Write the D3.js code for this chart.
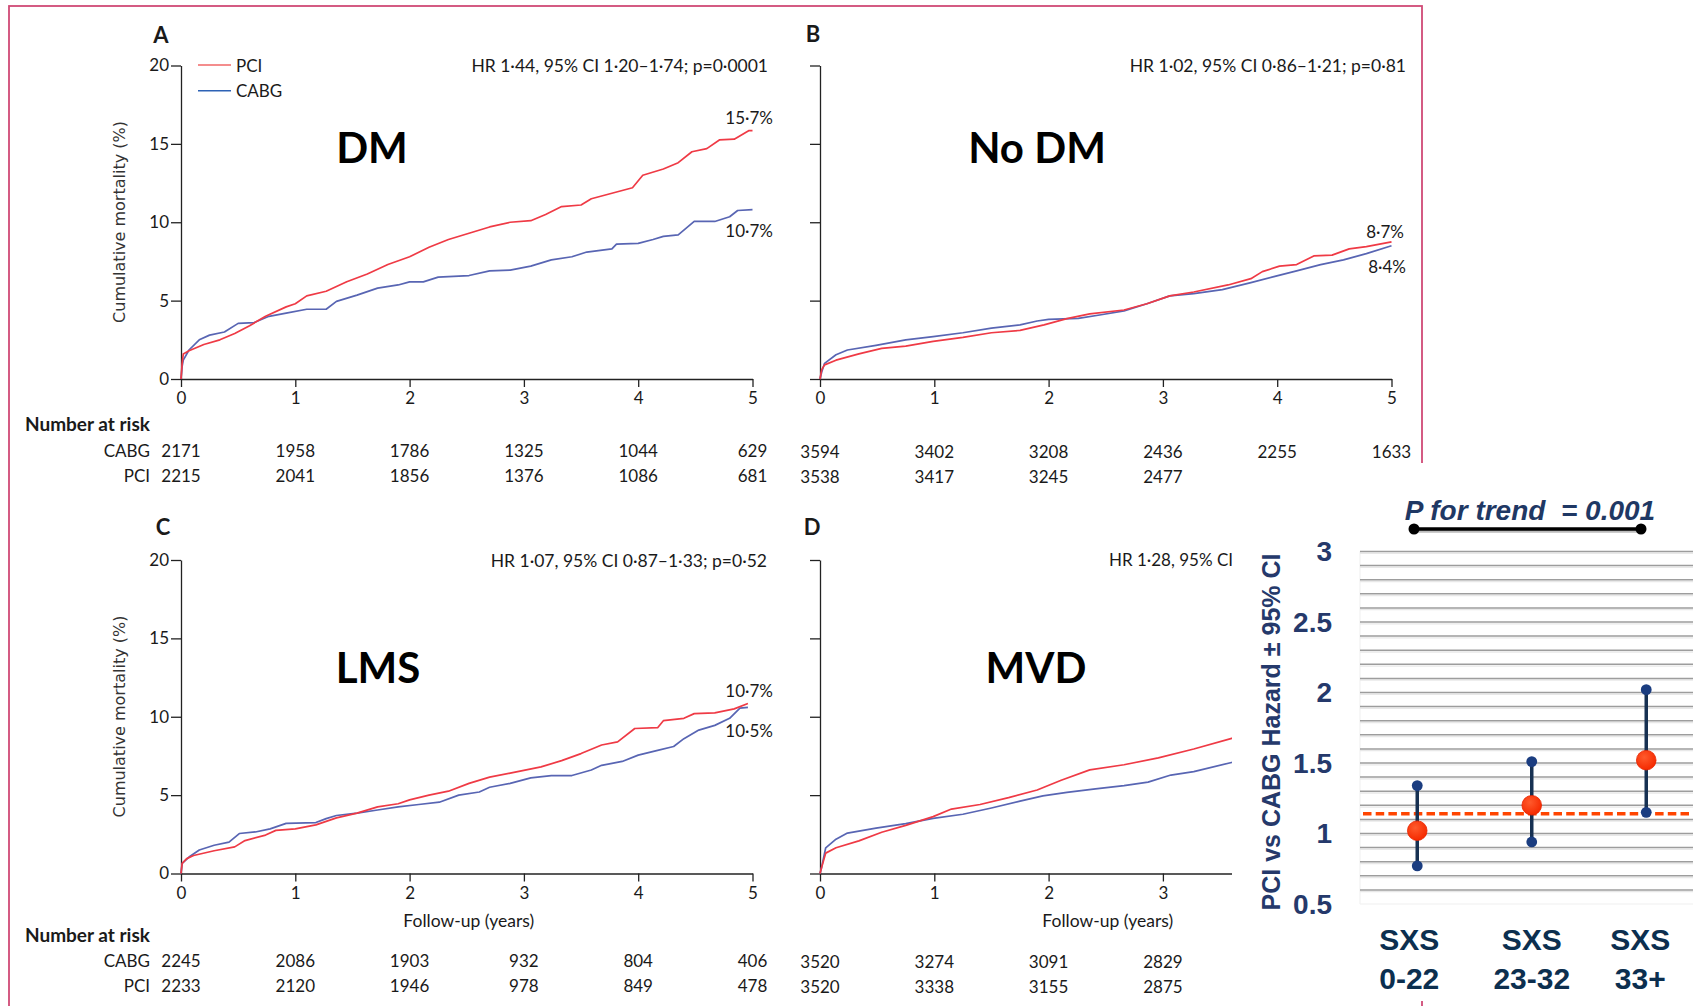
<!DOCTYPE html>
<html>
<head>
<meta charset="utf-8">
<script src="https://cdn.jsdelivr.net/npm/d3@7"></script>
<style>
  body { margin: 0; background: #fff; }
  svg { display: block; }
</style>
</head>
<body>
<svg id="chart" width="1693" height="1006"></svg>
<script>
// ---- values ----
var years = [0, 1, 2, 3, 4, 5];
var mortTicks = [0, 5, 10, 15, 20];

// cumulative mortality curves, [year, %]
var dmPci = [[0,0],[0.01,1.0],[0.02,1.6],[0.07,1.8],[0.2,2.2],[0.34,2.5],[0.47,2.9],[0.6,3.4],[0.74,4.0],[0.92,4.6],[1.0,4.8],[1.1,5.3],[1.27,5.6],[1.45,6.2],[1.63,6.7],[1.81,7.3],[2.0,7.8],[2.17,8.4],[2.34,8.9],[2.52,9.3],[2.7,9.7],[2.88,10.0],[3.06,10.1],[3.19,10.5],[3.33,11.0],[3.5,11.1],[3.59,11.5],[3.77,11.85],[3.95,12.2],[4.04,13.0],[4.22,13.4],[4.35,13.8],[4.47,14.5],[4.6,14.7],[4.71,15.25],[4.84,15.3],[4.97,15.85],[5.0,15.85]];
var dmCabg = [[0,0],[0.01,0.8],[0.02,1.2],[0.07,1.85],[0.16,2.5],[0.25,2.8],[0.38,3.0],[0.5,3.55],[0.64,3.6],[0.77,4.0],[0.92,4.2],[1.1,4.45],[1.27,4.45],[1.36,4.95],[1.54,5.35],[1.72,5.8],[1.9,6.0],[2.0,6.2],[2.12,6.2],[2.25,6.5],[2.52,6.6],[2.7,6.9],[2.88,6.95],[3.06,7.2],[3.24,7.6],[3.42,7.8],[3.55,8.1],[3.77,8.3],[3.81,8.6],[4.0,8.65],[4.13,8.9],[4.22,9.1],[4.35,9.2],[4.49,10.05],[4.67,10.05],[4.8,10.35],[4.87,10.75],[5.0,10.8]];
var noDmPci = [[0,0],[0.015,0.6],[0.04,0.9],[0.14,1.2],[0.34,1.6],[0.54,1.95],[0.75,2.1],[0.99,2.4],[1.25,2.65],[1.5,2.95],[1.75,3.1],[1.96,3.45],[2.16,3.85],[2.36,4.15],[2.66,4.4],[2.86,4.8],[3.06,5.3],[3.27,5.55],[3.57,6.0],[3.77,6.4],[3.87,6.85],[4.02,7.2],[4.17,7.3],[4.32,7.85],[4.48,7.9],[4.63,8.3],[4.78,8.45],[5.0,8.75]];
var noDmCabg = [[0,0],[0.015,0.45],[0.04,1.0],[0.14,1.55],[0.24,1.85],[0.49,2.15],[0.75,2.5],[0.99,2.7],[1.25,2.95],[1.5,3.25],[1.75,3.45],[1.9,3.7],[2.0,3.8],[2.26,3.87],[2.46,4.1],[2.66,4.35],[2.86,4.8],[3.06,5.3],[3.27,5.45],[3.52,5.7],[3.77,6.15],[3.98,6.55],[4.17,6.9],[4.38,7.3],[4.58,7.6],[4.78,8.0],[5.0,8.5]];
var lmsPci = [[0,0],[0.01,0.65],[0.05,0.95],[0.11,1.15],[0.29,1.45],[0.47,1.7],[0.56,2.1],[0.74,2.45],[0.83,2.75],[1.0,2.85],[1.18,3.1],[1.36,3.55],[1.54,3.85],[1.72,4.25],[1.9,4.45],[2.0,4.7],[2.17,5.0],[2.34,5.25],[2.52,5.75],[2.7,6.15],[2.88,6.4],[3.01,6.6],[3.15,6.8],[3.33,7.2],[3.5,7.65],[3.68,8.2],[3.82,8.4],[3.97,9.25],[4.17,9.3],[4.22,9.75],[4.4,9.9],[4.49,10.2],[4.67,10.25],[4.84,10.5],[4.96,10.85]];
var lmsCabg = [[0,0],[0.01,0.65],[0.07,1.05],[0.16,1.5],[0.29,1.8],[0.42,2.0],[0.51,2.55],[0.65,2.65],[0.78,2.85],[0.92,3.2],[1.18,3.25],[1.27,3.5],[1.36,3.7],[1.54,3.85],[1.72,4.05],[1.9,4.25],[2.08,4.4],[2.26,4.55],[2.43,5.0],[2.61,5.2],[2.7,5.5],[2.88,5.75],[3.06,6.1],[3.24,6.25],[3.42,6.25],[3.59,6.6],[3.68,6.9],[3.86,7.15],[4.0,7.55],[4.17,7.85],[4.31,8.1],[4.4,8.6],[4.53,9.15],[4.67,9.45],[4.8,9.9],[4.89,10.55],[4.96,10.6]];
var mvdPci = [[0,0],[0.015,0.42],[0.05,1.3],[0.14,1.64],[0.34,2.08],[0.54,2.63],[0.75,3.07],[0.99,3.63],[1.15,4.11],[1.4,4.4],[1.65,4.84],[1.9,5.33],[2.11,5.95],[2.36,6.61],[2.66,6.94],[2.96,7.38],[3.27,7.94],[3.61,8.64]];
var mvdCabg = [[0,0],[0.015,0.42],[0.05,1.64],[0.14,2.19],[0.24,2.58],[0.49,2.9],[0.75,3.18],[0.99,3.52],[1.25,3.78],[1.5,4.18],[1.75,4.62],[1.95,4.95],[2.16,5.17],[2.41,5.4],[2.66,5.61],[2.87,5.83],[3.07,6.28],[3.27,6.5],[3.61,7.1]];

// number at risk
var riskDmCabg = [2171, 1958, 1786, 1325, 1044, 629];
var riskDmPci = [2215, 2041, 1856, 1376, 1086, 681];
var riskNoDmCabg = [3594, 3402, 3208, 2436, 2255, 1633];
var riskNoDmPci = [3538, 3417, 3245, 2477];
var riskLmsCabg = [2245, 2086, 1903, 932, 804, 406];
var riskLmsPci = [2233, 2120, 1946, 978, 849, 478];
var riskMvdCabg = [3520, 3274, 3091, 2829];
var riskMvdPci = [3520, 3338, 3155, 2875];

// inset: hazard ratio by SYNTAX score
var sxsGroups = ["0-22", "23-32", "33+"];
var sxsHr = [1.02, 1.20, 1.52];
var sxsLo = [0.77, 0.94, 1.15];
var sxsHi = [1.34, 1.51, 2.02];
var overallHr = 1.14;
var hrTicks = [0.5, 1, 1.5, 2, 2.5, 3];

var W = 1693, H = 1006;
var kmFont = 'Lato, "Open Sans", sans-serif';
var pciColor = '#ef3a45', cabgColor = '#5865b3';

var svg = d3.select('#chart');
svg.append('rect').attr('width', W).attr('height', H).attr('fill', '#fff');

// pink frame round the four panels
svg.append('rect')
  .attr('x', 9).attr('y', 6).attr('width', 1413).attr('height', 1100)
  .attr('fill', 'none').attr('stroke', '#d04a76').attr('stroke-width', 1.8);

var panels = [
  { letter: 'A', lx: 161, ly: 43, name: 'DM', nx: 372, ny: 163, left: 181, bottom: 379,
    hr: 'HR 1·44, 95% CI 1·20–1·74; p=0·0001', hrX: 768, hrY: 72, hrAnchor: 'end', hrSize: 17.5,
    pci: dmPci, cabg: dmCabg, rc: riskDmCabg, rp: riskDmPci, rcY: 457, rpY: 482,
    yTitle: true, rowLabels: true, nrY: 431, legend: true,
    ends: [['15·7%', 773, 124], ['10·7%', 773, 237]] },
  { letter: 'B', lx: 813, ly: 42, name: 'No DM', nx: 1037, ny: 163, left: 820, bottom: 379,
    hr: 'HR 1·02, 95% CI 0·86–1·21; p=0·81', hrX: 1406, hrY: 72, hrAnchor: 'end', hrSize: 17.5,
    pci: noDmPci, cabg: noDmCabg, rc: riskNoDmCabg, rp: riskNoDmPci, rcY: 458, rpY: 483,
    ends: [['8·7%', 1404, 238], ['8·4%', 1406, 273]] },
  { letter: 'C', lx: 163, ly: 535, name: 'LMS', nx: 378, ny: 683, left: 181, bottom: 873.5,
    hr: 'HR 1·07, 95% CI 0·87–1·33; p=0·52', hrX: 767, hrY: 567, hrAnchor: 'end', hrSize: 17.5,
    pci: lmsPci, cabg: lmsCabg, rc: riskLmsCabg, rp: riskLmsPci, rcY: 967, rpY: 992,
    yTitle: true, rowLabels: true, nrY: 942, xTitle: true,
    ends: [['10·7%', 773, 697], ['10·5%', 773, 737]] },
  { letter: 'D', lx: 812, ly: 535, name: 'MVD', nx: 1036, ny: 683, left: 820, bottom: 873.5,
    hr: 'HR 1·28, 95% CI', hrX: 1109, hrY: 566, hrAnchor: 'start', hrSize: 17,
    pci: mvdPci, cabg: mvdCabg, rc: riskMvdCabg, rp: riskMvdPci, rcY: 968, rpY: 993,
    xTitle: true, ends: [] }
];

function txt(g, s, x, y, size, anchor, weight) {
  return g.append('text').attr('x', x).attr('y', y).text(s)
    .attr('font-family', kmFont).attr('font-size', size)
    .attr('text-anchor', anchor || 'start').attr('font-weight', weight || 'normal')
    .attr('fill', '#1a1a1a');
}

panels.forEach(function (p) {
  var x = d3.scaleLinear().domain([0, 5]).range([p.left, p.left + 571.5]);
  var y = d3.scaleLinear().domain([0, 20]).range([p.bottom, p.bottom - 313.5]);
  var g = svg.append('g');

  g.append('g').attr('transform', 'translate(0,' + p.bottom + ')')
    .call(d3.axisBottom(x).tickValues(years).tickSize(8).tickSizeOuter(0).tickPadding(5).tickFormat(d3.format('d')));
  g.append('g').attr('transform', 'translate(' + p.left + ',0)')
    .call(d3.axisLeft(y).tickValues(mortTicks).tickSize(10).tickSizeOuter(0).tickPadding(2)
      .tickFormat(p.yTitle ? d3.format('d') : function () { return ''; }));
  g.selectAll('.domain, .tick line').attr('stroke', '#222').attr('stroke-width', 1.3);
  g.selectAll('.tick text').attr('font-family', kmFont).attr('font-size', 17).attr('fill', '#1a1a1a');

  var line = d3.line().x(function (d) { return x(d[0]); }).y(function (d) { return y(d[1]); });
  g.append('path').datum(p.cabg).attr('d', line).attr('fill', 'none')
    .attr('stroke', cabgColor).attr('stroke-width', 1.7).attr('stroke-linejoin', 'round');
  g.append('path').datum(p.pci).attr('d', line).attr('fill', 'none')
    .attr('stroke', pciColor).attr('stroke-width', 1.7).attr('stroke-linejoin', 'round');

  txt(g, p.letter, p.lx, p.ly, 22, 'middle', 'bold');
  txt(g, p.name, p.nx, p.ny, 42, 'middle', 'bold').attr('fill', '#000');
  txt(g, p.hr, p.hrX, p.hrY, p.hrSize, p.hrAnchor);
  p.ends.forEach(function (e) { txt(g, e[0], e[1], e[2], 17, 'end'); });

  if (p.yTitle) {
    g.append('text').text('Cumulative mortality (%)')
      .attr('transform', 'translate(125,' + (p.bottom - 157) + ') rotate(-90)')
      .attr('text-anchor', 'middle').attr('font-family', '"DejaVu Sans", sans-serif')
      .attr('font-size', 16).attr('fill', '#333');
  }
  if (p.xTitle) {
    txt(g, 'Follow-up (years)', x(2.5) + 2, p.bottom + 53, 17.5, 'middle');
  }
  if (p.legend) {
    var lg = [['PCI', '#f06767', 65], ['CABG', '#2d62b5', 90.7]];
    lg.forEach(function (l) {
      g.append('line').attr('x1', 198).attr('x2', 231).attr('y1', l[2]).attr('y2', l[2])
        .attr('stroke', l[1]).attr('stroke-width', 1.5);
      txt(g, l[0], 236, l[2] + 6.5, 17, 'start');
    });
  }
  if (p.rowLabels) {
    txt(g, 'Number at risk', 25, p.nrY, 19, 'start', 'bold');
    txt(g, 'CABG', 150, p.rcY, 17, 'end');
    txt(g, 'PCI', 150, p.rpY, 17, 'end');
  }
  p.rc.forEach(function (v, i) { txt(g, v, x(years[i]), p.rcY, 17, 'middle'); });
  p.rp.forEach(function (v, i) { txt(g, v, x(years[i]), p.rpY, 17, 'middle'); });
});

// ---- inset: PCI vs CABG hazard by SYNTAX score ----
var navy = '#25396b';
var arial = '"Liberation Sans", Arial, sans-serif';
var inset = svg.append('g');
inset.append('rect').attr('x', 1232).attr('y', 463).attr('width', 461).attr('height', 538).attr('fill', '#fff');

var hx = d3.scalePoint().domain(sxsGroups).range([1360, 1703.5]).padding(0.5);
var hy = d3.scaleLinear().domain([0.5, 3]).range([904, 551.5]);
var labelShift = [-8, 0, -6];

inset.append('line').attr('x1', 1360).attr('x2', 1693).attr('y1', hy(0.5)).attr('y2', hy(0.5))
  .attr('stroke', '#efefef').attr('stroke-width', 1.2);
inset.append('line').attr('x1', 1360).attr('x2', 1360).attr('y1', hy(3)).attr('y2', hy(0.5))
  .attr('stroke', '#f2f2f2').attr('stroke-width', 1.2);

var grid = hy.ticks(25).filter(function (d) { return d > 0.55; });
inset.selectAll('.gshadow').data(grid).enter().append('line')
  .attr('x1', 1360).attr('x2', 1693)
  .attr('y1', function (d) { return hy(d) + 1.8; }).attr('y2', function (d) { return hy(d) + 1.8; })
  .attr('stroke', '#e8e8e8').attr('stroke-width', 1.3);
inset.selectAll('.grid').data(grid).enter().append('line')
  .attr('x1', 1360).attr('x2', 1693)
  .attr('y1', function (d) { return hy(d); }).attr('y2', function (d) { return hy(d); })
  .attr('stroke', '#9d9d9d').attr('stroke-width', 1.5);

inset.selectAll('.hrtick').data(hrTicks).enter().append('text')
  .attr('x', 1332).attr('y', function (d) { return hy(d); }).attr('dy', '0.35em')
  .attr('text-anchor', 'end').attr('font-family', arial).attr('font-weight', 'bold')
  .attr('font-size', 28).attr('fill', navy).text(function (d) { return d; });

inset.append('text').text('PCI vs CABG Hazard ± 95% CI')
  .attr('transform', 'translate(1279.5,' + hy(1.72) + ') rotate(-90)')
  .attr('text-anchor', 'middle').attr('font-family', arial).attr('font-weight', 'bold')
  .attr('font-size', 25).attr('fill', navy);

// overall hazard reference line
inset.append('line').attr('x1', 1363).attr('x2', 1693)
  .attr('y1', hy(overallHr)).attr('y2', hy(overallHr))
  .attr('stroke', '#ff4500').attr('stroke-width', 3.6).attr('stroke-dasharray', '8.5,4.2');

var defs = svg.append('defs');
var grad = defs.append('radialGradient').attr('id', 'dotGrad').attr('cx', '40%').attr('cy', '35%').attr('r', '65%');
grad.append('stop').attr('offset', '0%').attr('stop-color', '#ff5a2c');
grad.append('stop').attr('offset', '100%').attr('stop-color', '#f52a00');

sxsGroups.forEach(function (s, i) {
  var cx = hx(s);
  inset.append('line').attr('x1', cx).attr('x2', cx).attr('y1', hy(sxsLo[i])).attr('y2', hy(sxsHi[i]))
    .attr('stroke', '#173152').attr('stroke-width', 3.5);
  [sxsLo[i], sxsHi[i]].forEach(function (v) {
    inset.append('circle').attr('cx', cx).attr('cy', hy(v)).attr('r', 5.4).attr('fill', '#1b3d80');
  });
  inset.append('circle').attr('cx', cx).attr('cy', hy(sxsHr[i])).attr('r', 9.8)
    .attr('fill', 'url(#dotGrad)').attr('stroke', '#e82400').attr('stroke-width', 0.8);

  inset.append('text').text('SXS').attr('x', cx + labelShift[i]).attr('y', 950)
    .attr('text-anchor', 'middle').attr('font-family', arial).attr('font-weight', 'bold')
    .attr('font-size', 30).attr('fill', '#0c2f4f');
  inset.append('text').text(s).attr('x', cx + labelShift[i]).attr('y', 989)
    .attr('text-anchor', 'middle').attr('font-family', arial).attr('font-weight', 'bold')
    .attr('font-size', 30).attr('fill', '#0c2f4f');
});

// trend bar
var bar = inset.append('g');
bar.append('line').attr('x1', 1414).attr('x2', 1641).attr('y1', 531).attr('y2', 531)
  .attr('stroke', '#bbb').attr('stroke-width', 3.5);
bar.append('line').attr('x1', 1414).attr('x2', 1641).attr('y1', 529).attr('y2', 529)
  .attr('stroke', '#000').attr('stroke-width', 3.5);
[1414, 1641].forEach(function (bx) {
  bar.append('circle').attr('cx', bx).attr('cy', 529).attr('r', 5.5).attr('fill', '#000');
});
inset.append('text').text('P for trend \u00a0= 0.001').attr('x', 1530).attr('y', 520)
  .attr('text-anchor', 'middle').attr('font-family', arial).attr('font-weight', 'bold')
  .attr('font-style', 'italic').attr('font-size', 28).attr('fill', '#1f3864');
</script>
</body>
</html>
